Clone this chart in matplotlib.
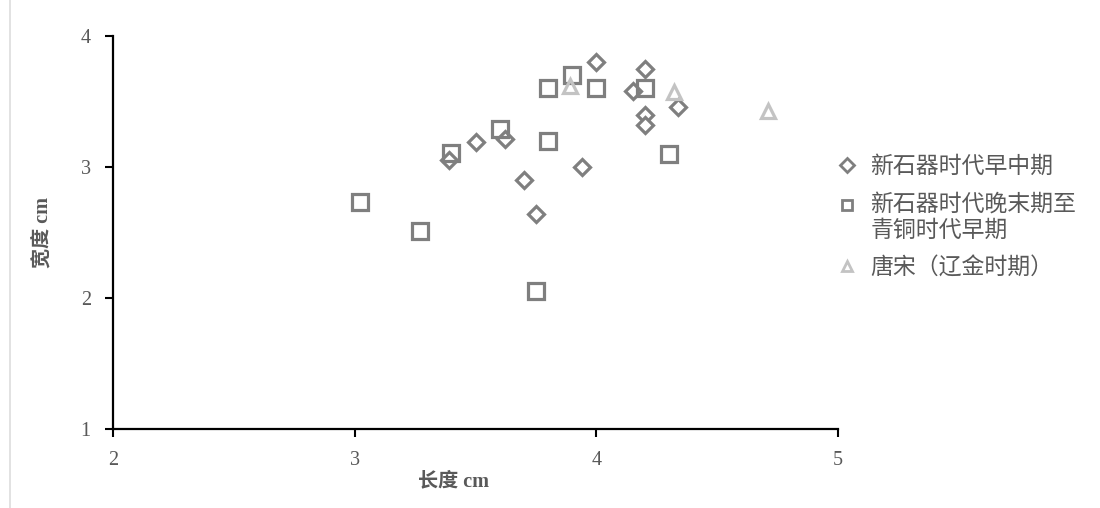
import matplotlib
matplotlib.use("Agg")
import matplotlib.pyplot as plt
from matplotlib.lines import Line2D

plt.rcParams['font.family'] = ['Liberation Serif', 'Noto Sans CJK SC', 'DejaVu Sans']

# Data
series_names = ["新石器时代早中期", "新石器时代晚末期至\n青铜时代早期", "唐宋（辽金时期）"]

early_x = [3.39, 3.50, 3.62, 3.70, 3.75, 3.94, 4.00, 4.15, 4.20, 4.20, 4.20, 4.34]
early_y = [3.05, 3.19, 3.21, 2.90, 2.64, 3.00, 3.80, 3.58, 3.75, 3.40, 3.32, 3.46]

late_x = [3.02, 3.27, 3.40, 3.60, 3.75, 3.80, 3.80, 3.90, 4.00, 4.20, 4.30]
late_y = [2.73, 2.51, 3.11, 3.29, 2.05, 3.60, 3.20, 3.70, 3.60, 3.60, 3.10]

tang_x = [3.89, 4.32, 4.71]
tang_y = [3.62, 3.57, 3.43]

x_ticks = [2, 3, 4, 5]
y_ticks = [1, 2, 3, 4]

fig = plt.figure(figsize=(11, 5.08), dpi=100)
ax = fig.add_axes([113/1100, 1 - 429/508, (838-113)/1100, (429-36)/508])

dark = '#7f7f7f'
light = '#c3c3c3'
txt = '#595959'

ax.plot(early_x, early_y, linestyle='none', marker='D', markersize=8.5,
        markerfacecolor='white', markeredgecolor=dark, markeredgewidth=2.3,
        label=series_names[0], zorder=3)
ax.plot(late_x, late_y, linestyle='none', marker='s', markersize=11.5,
        markerfacecolor='none', markeredgecolor=dark, markeredgewidth=2.3,
        label=series_names[1], zorder=4)
ax.plot(tang_x, tang_y, linestyle='none', marker='^', markersize=10.5,
        markerfacecolor='none', markeredgecolor=light, markeredgewidth=2.3,
        label=series_names[2], zorder=5)

ax.set_xlim(2, 5)
ax.set_ylim(1, 4)
ax.set_xticks(x_ticks)
ax.set_yticks(y_ticks)
ax.tick_params(axis='both', direction='out', length=6, width=1.5, colors='black',
               labelcolor=txt, labelsize=14.5)
ax.tick_params(axis='x', pad=10)
ax.tick_params(axis='y', pad=10)
for s in ['top', 'right']:
    ax.spines[s].set_visible(False)
for s in ['left', 'bottom']:
    ax.spines[s].set_linewidth(1.6)
    ax.spines[s].set_color('black')

ax.set_xlabel('长度 cm', fontsize=14.5, fontweight='bold', color=txt)
ax.xaxis.set_label_coords(0.47, -0.108)
ax.set_ylabel('宽度 cm', fontsize=14.5, fontweight='bold', color=txt, labelpad=20)

leg = ax.legend(loc='upper left', bbox_to_anchor=(0.975, 0.75), frameon=False,
                labelspacing=0.63, handlelength=0.6, handletextpad=0.7,
                labelcolor=txt, prop={'family': ['Noto Sans CJK SC', 'DejaVu Sans'], 'size': 16.5})
for h in leg.legend_handles:
    h.set_markersize(7)
    h.set_markeredgewidth(2)
# align the two-line entry's marker with its first line
h2 = leg.legend_handles[1]
h2.set_ydata([y + 9.5 for y in h2.get_ydata()])

fig.add_artist(Line2D([10/1100, 10/1100], [0, 1], color='#dddddd', linewidth=1.2))

fig.savefig('out.png', dpi=100, facecolor='white')
